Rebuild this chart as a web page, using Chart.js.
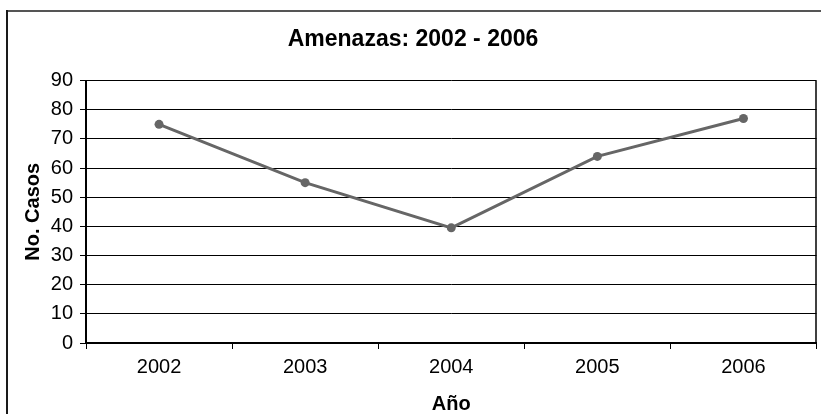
<!DOCTYPE html>
<html>
<head>
<meta charset="utf-8">
<script src="https://cdn.jsdelivr.net/npm/chart.js@4/dist/chart.umd.min.js"></script>
<style>
  html, body { margin: 0; padding: 0; background: #fff; }
  canvas { display: block; }
</style>
</head>
<body>
<canvas id="chart" width="821" height="414"></canvas>
<script>
// Data
const years = ['2002', '2003', '2004', '2005', '2006'];
const casos = [75, 55, 39.5, 64, 77];

const FONT = '"Liberation Sans", Arial, sans-serif';

// Outer frame of the picture and right edge of the plot area
const framePlugin = {
    id: 'frame',
    beforeDraw(chart) {
        const ctx = chart.ctx;
        ctx.save();
        ctx.fillStyle = '#ffffff';
        ctx.fillRect(0, 0, chart.width, chart.height);
        ctx.fillStyle = '#555555';
        ctx.fillRect(6, 10, chart.width - 6, 2);
        ctx.fillStyle = '#1a1a1a';
        ctx.fillRect(6, 10, 2, chart.height - 10);
        ctx.restore();
    },
    afterDraw(chart) {
        const a = chart.chartArea;
        const ctx = chart.ctx;
        ctx.save();
        ctx.strokeStyle = '#000';
        ctx.lineWidth = 1.5;
        ctx.beginPath();
        ctx.moveTo(a.right - 0.5, a.top);
        ctx.lineTo(a.right - 0.5, a.bottom);
        ctx.stroke();
        ctx.restore();
    }
};

const ctx = document.getElementById('chart').getContext('2d');
new Chart(ctx, {
    type: 'line',
    data: {
        labels: years,
        datasets: [{
            data: casos,
            borderColor: '#666666',
            backgroundColor: '#666666',
            borderWidth: 3,
            pointRadius: 4.5,
            pointBackgroundColor: '#666666',
            pointBorderWidth: 0,
            tension: 0
        }]
    },
    options: {
        responsive: false,
        animation: false,
        devicePixelRatio: 1,
        layout: { padding: { left: 8, right: 3, top: 12, bottom: 0 } },
        plugins: {
            legend: { display: false },
            tooltip: { enabled: false },
            title: {
                display: true,
                text: 'Amenazas: 2002 - 2006',
                color: '#000',
                font: { family: FONT, size: 23, weight: 'bold' },
                padding: { top: 14, bottom: 27 }
            }
        },
        scales: {
            x: {
                offset: true,
                afterFit(scale) { scale.height = 71; },
                grid: {
                    offset: true,
                    drawOnChartArea: false,
                    color: '#000',
                    tickLength: 6
                },
                border: { color: '#000', width: 2 },
                ticks: {
                    color: '#000',
                    padding: 6,
                    font: { family: FONT, size: 20 }
                },
                title: {
                    display: true,
                    text: 'Año',
                    color: '#000',
                    font: { family: FONT, size: 20, weight: 'bold', lineHeight: 1 },
                    padding: { top: 0, bottom: 0 }
                }
            },
            y: {
                min: 0,
                max: 90,
                afterFit(scale) { scale.width = 78; },
                grid: { color: '#000', lineWidth: 1, tickLength: 6 },
                border: { color: '#000', width: 2 },
                ticks: {
                    stepSize: 10,
                    color: '#000',
                    padding: 7,
                    font: { family: FONT, size: 20 }
                },
                title: {
                    display: true,
                    text: 'No. Casos',
                    color: '#000',
                    font: { family: FONT, size: 20, weight: 'bold', lineHeight: 1.2 },
                    padding: { top: 13, bottom: 0 }
                }
            }
        }
    },
    plugins: [framePlugin]
});
</script>
</body>
</html>
